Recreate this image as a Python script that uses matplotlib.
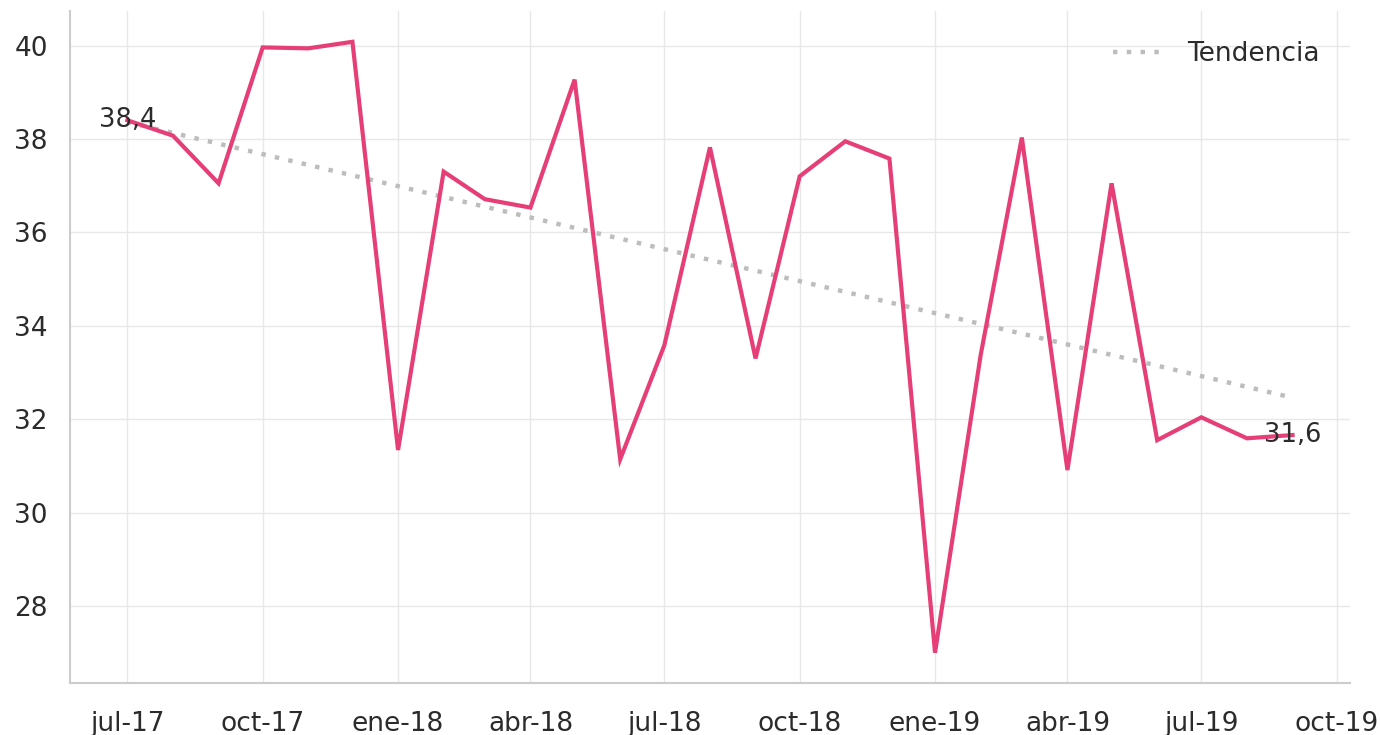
import numpy as np
import pandas as pd
import matplotlib
matplotlib.use("Agg")
import matplotlib.pyplot as plt
import matplotlib.dates as mdates

months = pd.date_range("2017-07-01", "2019-09-01", freq="MS")
values = [38.4, 38.07, 37.05, 39.96, 39.94, 40.08, 31.34, 37.30, 36.71, 36.53,
          39.27, 31.14, 33.58, 37.82, 33.30, 37.20, 37.95, 37.58, 27.0, 33.37,
          38.03, 30.91, 37.05, 31.55, 32.04, 31.59, 31.66]
# trend line end points
trend_values = [38.36, 32.46]
tick_dates = pd.date_range("2017-07-01", "2019-10-01", freq="3MS")
tick_labels = ["jul-17", "oct-17", "ene-18", "abr-18", "jul-18",
               "oct-18", "ene-19", "abr-19", "jul-19", "oct-19"]
first_label = "38,4"
last_label = "31,6"

line_color = "#e63f77"
trend_color = "#bdbdbd"
text_color = "#2b2b2b"

fig = plt.figure(figsize=(13.8, 7.35), dpi=100)
ax = fig.add_axes([0.0507, 0.0707, 0.9275, 0.915])

ax.plot(months, values, color=line_color, lw=3, zorder=3, solid_joinstyle="miter")
ax.plot([months[0], months[-1]], trend_values, color=trend_color, lw=3.2,
        ls=(0, (1, 2.1)), label="Tendencia", zorder=2)

ax.text(months[0], values[0], first_label, fontsize=18.5, color=text_color,
        ha="center", va="center", zorder=4)
ax.text(months[-1], values[-1], last_label, fontsize=18.5, color=text_color,
        ha="center", va="center", zorder=4)

ax.set_xlim(pd.Timestamp("2017-05-23"), pd.Timestamp("2019-10-10"))
ax.set_ylim(26.35, 40.75)
ax.set_xticks(tick_dates)
ax.set_xticklabels(tick_labels)
ax.set_yticks([28, 30, 32, 34, 36, 38, 40])

ax.grid(True, color="#e8e8e8", lw=1)
ax.set_axisbelow(True)
for s in ["top", "right"]:
    ax.spines[s].set_visible(False)
for s in ["left", "bottom"]:
    ax.spines[s].set_color("#cccccc")
    ax.spines[s].set_linewidth(1.5)
ax.tick_params(length=0, labelsize=19, labelcolor=text_color)
ax.tick_params(axis="x", pad=20)
ax.tick_params(axis="y", pad=16)

ax.legend(loc="upper right", frameon=False, fontsize=19, handlelength=2.0,
          labelcolor=text_color, bbox_to_anchor=(0.995, 0.99))

fig.savefig("out.png", dpi=100)
